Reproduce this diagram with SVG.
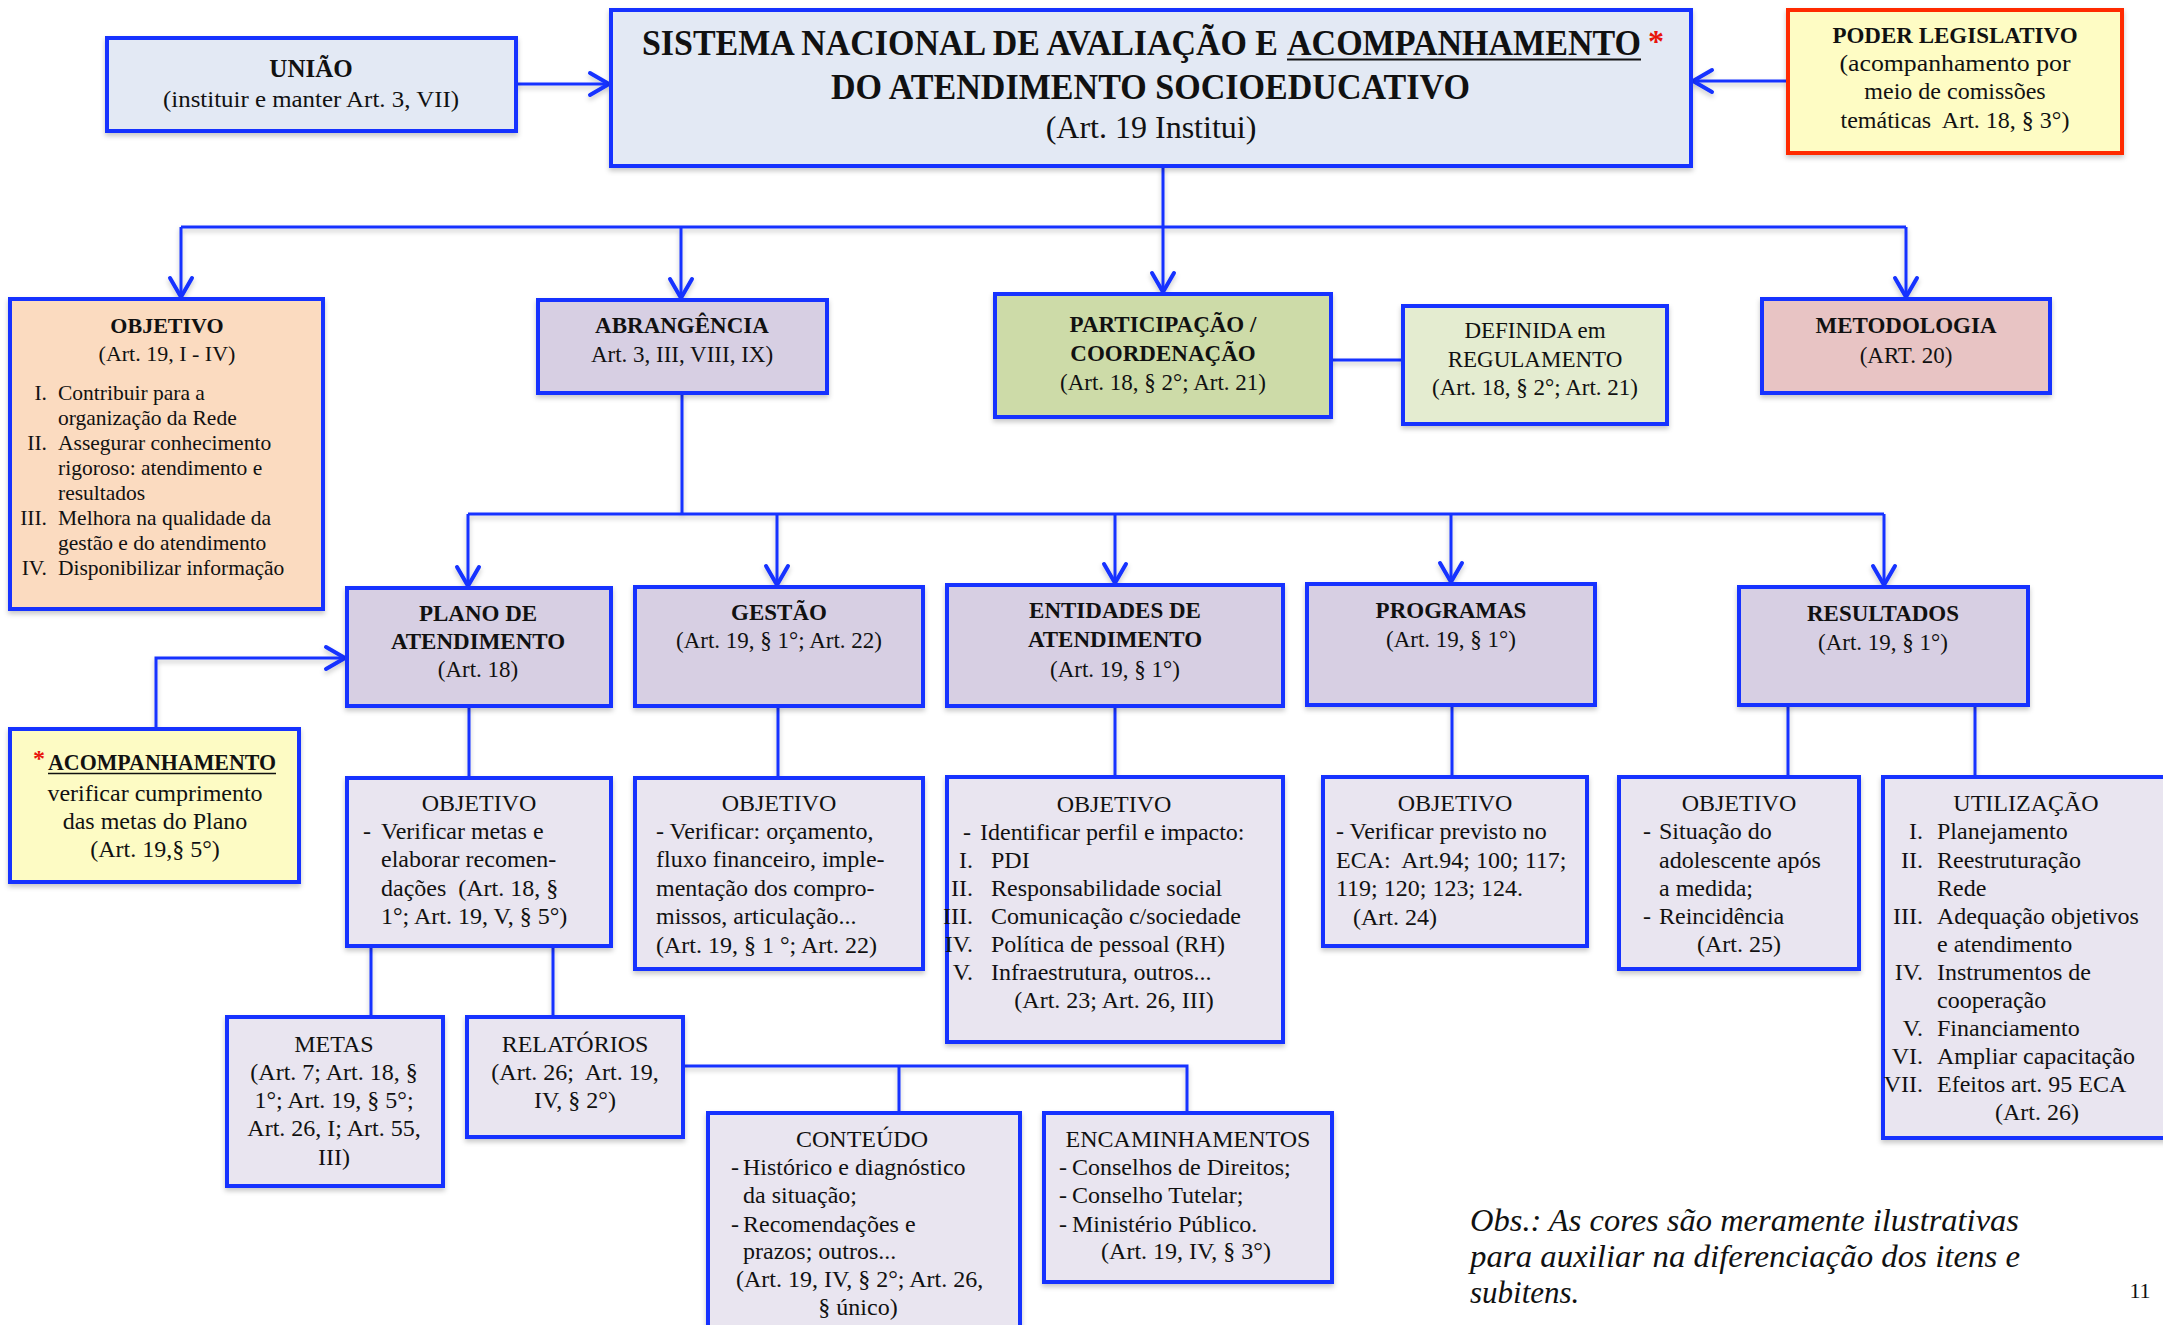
<svg xmlns="http://www.w3.org/2000/svg" width="2163" height="1325" viewBox="0 0 2163 1325">
<style>
.bx{stroke:#1432ff;stroke-width:4}
.lv{fill:#d7cfe3}
.sb{fill:#e9e5f0}
text{font-family:"Liberation Serif","Times New Roman",serif;fill:#111;font-size:24px}
.b{font-weight:bold}
.c{text-anchor:middle}
.e{text-anchor:end}
.h{font-size:23px}
.cn{fill:none;stroke:#1432ff;stroke-width:3}
.ar{marker-end:url(#ar)}
.o{font-size:21.5px}
.t35{font-size:35px}
.t32{font-size:32px}
.t25{font-size:25px}
.t22{font-size:22px}
.it{font-size:31px;font-style:italic}
.red{fill:#e8140c}
</style>
<defs>
<marker id="ar" markerUnits="userSpaceOnUse" markerWidth="30" markerHeight="30" viewBox="0 0 30 30" refX="27" refY="15" orient="auto">
<path d="M8,4 L27,15 L8,26" fill="none" stroke="#1432ff" stroke-width="4" stroke-linecap="round" stroke-linejoin="round"/>
</marker>
<filter id="sh" x="-5%" y="-5%" width="110%" height="120%">
<feDropShadow dx="0" dy="3" stdDeviation="2.5" flood-color="#000" flood-opacity="0.22"/>
</filter>
</defs>
<rect width="2163" height="1325" fill="#fff"/>

<g id="connectors" filter="url(#sh)">
<path class="cn ar" d="M516,84 H609"/>
<path class="cn ar" d="M1787,81 H1693"/>
<path class="cn" d="M181,227 H1906"/>
<path class="cn ar" d="M1163,166 V292"/>
<path class="cn ar" d="M181,227 V297"/>
<path class="cn ar" d="M681,227 V298"/>
<path class="cn ar" d="M1906,227 V297"/>
<path class="cn" d="M1331,360 H1403"/>
<path class="cn" d="M682,393 V514"/>
<path class="cn" d="M468,514 H1884"/>
<path class="cn ar" d="M468,514 V586"/>
<path class="cn ar" d="M777,514 V585"/>
<path class="cn ar" d="M1115,514 V583"/>
<path class="cn ar" d="M1451,514 V582"/>
<path class="cn ar" d="M1884,514 V585"/>
<path class="cn ar" d="M156,730 V658 H345"/>
<path class="cn" d="M469,706 V778"/>
<path class="cn" d="M778,706 V778"/>
<path class="cn" d="M1115,706 V777"/>
<path class="cn" d="M1452,705 V777"/>
<path class="cn" d="M1788,705 V777"/>
<path class="cn" d="M1975,705 V777"/>
<path class="cn" d="M371,946 V1017"/>
<path class="cn" d="M553,946 V1017"/>
<path class="cn" d="M683,1066 H1187 V1113"/>
<path class="cn" d="M899,1066 V1113"/>
</g>

<g id="uniao">
<rect x="107" y="38" width="409" height="93" fill="#e3e9f4" class="bx" filter="url(#sh)"/>
<text x="311" y="77" class="b c t25">UNIÃO</text>
<text x="311" y="107" class="c" textLength="296" lengthAdjust="spacingAndGlyphs">(instituir e manter Art. 3, VII)</text>
</g>

<g id="sistema">
<rect x="611" y="10" width="1080" height="156" fill="#e3e9f4" class="bx" filter="url(#sh)"/>
<text x="642" y="55" class="b t35" textLength="636" lengthAdjust="spacingAndGlyphs">SISTEMA NACIONAL DE AVALIAÇÃO E</text>
<text x="1287" y="55" class="b t35" textLength="354" lengthAdjust="spacingAndGlyphs">ACOMPANHAMENTO</text>
<text x="1648" y="52" class="b t32 red">*</text>
<line x1="1287" y1="59.5" x2="1641" y2="59.5" stroke="#111" stroke-width="1.8"/>
<text x="831" y="99" class="b t35" textLength="639" lengthAdjust="spacingAndGlyphs">DO ATENDIMENTO SOCIOEDUCATIVO</text>
<text x="1151" y="138" class="c t32">(Art. 19 Institui)</text>
</g>

<g id="poder">
<rect x="1788" y="10" width="334" height="143" fill="#fefcc4" stroke="#ff2a00" stroke-width="4" filter="url(#sh)"/>
<text x="1955" y="43" class="b c h">PODER LEGISLATIVO</text>
<text x="1955" y="71" class="c" textLength="231" lengthAdjust="spacingAndGlyphs">(acompanhamento por</text>
<text x="1955" y="99" class="c">meio de comissões</text>
<text x="1955" y="128" class="c" xml:space="preserve">temáticas  Art. 18, § 3°)</text>
</g>

<g id="objetivo">
<rect x="10" y="299" width="313" height="310" fill="#fbdbc0" class="bx" filter="url(#sh)"/>
<text x="167" y="333" class="b c t22">OBJETIVO</text>
<text x="167" y="361" class="c t22">(Art. 19, I - IV)</text>
<text x="47" y="400" class="e o">I.</text><text x="58" y="400" class="o">Contribuir para a</text>
<text x="58" y="425" class="o">organização da Rede</text>
<text x="47" y="450" class="e o">II.</text><text x="58" y="450" class="o">Assegurar conhecimento</text>
<text x="58" y="475" class="o">rigoroso: atendimento e</text>
<text x="58" y="500" class="o">resultados</text>
<text x="47" y="525" class="e o">III.</text><text x="58" y="525" class="o">Melhora na qualidade da</text>
<text x="58" y="550" class="o">gestão e do atendimento</text>
<text x="47" y="575" class="e o">IV.</text><text x="58" y="575" class="o">Disponibilizar informação</text>
</g>

<g id="abrangencia">
<rect x="538" y="300" width="289" height="93" class="bx lv" filter="url(#sh)"/>
<text x="682" y="333" class="b c h">ABRANGÊNCIA</text>
<text x="682" y="362" class="c h">Art. 3, III, VIII, IX)</text>
</g>

<g id="participacao">
<rect x="995" y="294" width="336" height="123" fill="#cddba8" class="bx" filter="url(#sh)"/>
<text x="1163" y="332" class="b c h">PARTICIPAÇÃO /</text>
<text x="1163" y="361" class="b c h">COORDENAÇÃO</text>
<text x="1163" y="390" class="c h">(Art. 18, § 2°; Art. 21)</text>
</g>

<g id="definida">
<rect x="1403" y="306" width="264" height="118" fill="#e4ecd0" class="bx" filter="url(#sh)"/>
<text x="1535" y="338" class="c h">DEFINIDA em</text>
<text x="1535" y="367" class="c h">REGULAMENTO</text>
<text x="1535" y="395" class="c h">(Art. 18, § 2°; Art. 21)</text>
</g>

<g id="metodologia">
<rect x="1762" y="299" width="288" height="94" fill="#e8c4c4" class="bx" filter="url(#sh)"/>
<text x="1906" y="333" class="b c h">METODOLOGIA</text>
<text x="1906" y="363" class="c h">(ART. 20)</text>
</g>

<g id="plano">
<rect x="347" y="588" width="264" height="118" class="bx lv" filter="url(#sh)"/>
<text x="478" y="621" class="b c h">PLANO DE</text>
<text x="478" y="649" class="b c h">ATENDIMENTO</text>
<text x="478" y="677" class="c h">(Art. 18)</text>
</g>

<g id="acompanhamento">
<rect x="10" y="729" width="289" height="153" fill="#fdfbc4" class="bx" filter="url(#sh)"/>
<text x="33" y="766" class="b red">*</text>
<text x="48" y="770" class="b h" textLength="228" lengthAdjust="spacingAndGlyphs">ACOMPANHAMENTO</text>
<line x1="48" y1="773.5" x2="276" y2="773.5" stroke="#111" stroke-width="1.6"/>
<text x="155" y="801" class="c">verificar cumprimento</text>
<text x="155" y="829" class="c">das metas do Plano</text>
<text x="155" y="857" class="c">(Art. 19,§ 5°)</text>
</g>

<g id="gestao">
<rect x="635" y="587" width="288" height="119" class="bx lv" filter="url(#sh)"/>
<text x="779" y="620" class="b c h">GESTÃO</text>
<text x="779" y="648" class="c h">(Art. 19, § 1°; Art. 22)</text>
</g>

<g id="entidades">
<rect x="947" y="585" width="336" height="121" class="bx lv" filter="url(#sh)"/>
<text x="1115" y="618" class="b c h">ENTIDADES DE</text>
<text x="1115" y="647" class="b c h">ATENDIMENTO</text>
<text x="1115" y="677" class="c h">(Art. 19, § 1°)</text>
</g>

<g id="programas">
<rect x="1307" y="584" width="288" height="121" class="bx lv" filter="url(#sh)"/>
<text x="1451" y="618" class="b c h">PROGRAMAS</text>
<text x="1451" y="647" class="c h">(Art. 19, § 1°)</text>
</g>

<g id="resultados">
<rect x="1739" y="587" width="289" height="118" class="bx lv" filter="url(#sh)"/>
<text x="1883" y="621" class="b c h">RESULTADOS</text>
<text x="1883" y="650" class="c h">(Art. 19, § 1°)</text>
</g>

<g id="plano-objetivo">
<rect x="347" y="778" width="264" height="168" class="bx sb" filter="url(#sh)"/>
<text x="479" y="811" class="c">OBJETIVO</text>
<text x="363" y="839">-</text><text x="381" y="839">Verificar metas e</text>
<text x="381" y="867">elaborar recomen-</text>
<text x="381" y="896" xml:space="preserve">dações  (Art. 18, §</text>
<text x="381" y="924">1°; Art. 19, V, § 5°)</text>
</g>

<g id="gestao-objetivo">
<rect x="635" y="778" width="288" height="191" class="bx sb" filter="url(#sh)"/>
<text x="779" y="811" class="c">OBJETIVO</text>
<text x="656" y="839">- Verificar: orçamento,</text>
<text x="656" y="867">fluxo financeiro, imple-</text>
<text x="656" y="896">mentação dos compro-</text>
<text x="656" y="924">missos, articulação...</text>
<text x="656" y="953">(Art. 19, § 1 °; Art. 22)</text>
</g>

<g id="entidades-objetivo">
<rect x="947" y="777" width="336" height="265" class="bx sb" filter="url(#sh)"/>
<text x="1114" y="812" class="c">OBJETIVO</text>
<text x="963" y="840">-</text><text x="980" y="840">Identificar perfil e impacto:</text>
<text x="973" y="868" class="e">I.</text><text x="991" y="868">PDI</text>
<text x="973" y="896" class="e">II.</text><text x="991" y="896">Responsabilidade social</text>
<text x="973" y="924" class="e">III.</text><text x="991" y="924">Comunicação c/sociedade</text>
<text x="973" y="952" class="e">IV.</text><text x="991" y="952">Política de pessoal (RH)</text>
<text x="973" y="980" class="e">V.</text><text x="991" y="980">Infraestrutura, outros...</text>
<text x="1114" y="1008" class="c">(Art. 23; Art. 26, III)</text>
</g>

<g id="programas-objetivo">
<rect x="1323" y="777" width="264" height="169" class="bx sb" filter="url(#sh)"/>
<text x="1455" y="811" class="c">OBJETIVO</text>
<text x="1336" y="839">- Verificar previsto no</text>
<text x="1336" y="868" xml:space="preserve">ECA:  Art.94; 100; 117;</text>
<text x="1336" y="896">119; 120; 123; 124.</text>
<text x="1353" y="925">(Art. 24)</text>
</g>

<g id="resultados-objetivo">
<rect x="1619" y="777" width="240" height="192" class="bx sb" filter="url(#sh)"/>
<text x="1739" y="811" class="c">OBJETIVO</text>
<text x="1643" y="839">-</text><text x="1659" y="839">Situação do</text>
<text x="1659" y="868">adolescente após</text>
<text x="1659" y="896">a medida;</text>
<text x="1643" y="924">-</text><text x="1659" y="924">Reincidência</text>
<text x="1739" y="952" class="c">(Art. 25)</text>
</g>

<g id="utilizacao">
<rect x="1883" y="777" width="300" height="361" class="bx sb" filter="url(#sh)"/>
<text x="2026" y="811" class="c">UTILIZAÇÃO</text>
<text x="1923" y="839" class="e">I.</text><text x="1937" y="839">Planejamento</text>
<text x="1923" y="868" class="e">II.</text><text x="1937" y="868">Reestruturação</text>
<text x="1937" y="896">Rede</text>
<text x="1923" y="924" class="e">III.</text><text x="1937" y="924">Adequação objetivos</text>
<text x="1937" y="952">e atendimento</text>
<text x="1923" y="980" class="e">IV.</text><text x="1937" y="980">Instrumentos de</text>
<text x="1937" y="1008">cooperação</text>
<text x="1923" y="1036" class="e">V.</text><text x="1937" y="1036">Financiamento</text>
<text x="1923" y="1064" class="e">VI.</text><text x="1937" y="1064">Ampliar capacitação</text>
<text x="1923" y="1092" class="e">VII.</text><text x="1937" y="1092">Efeitos art. 95 ECA</text>
<text x="2037" y="1120" class="c">(Art. 26)</text>
</g>

<g id="metas">
<rect x="227" y="1017" width="216" height="169" class="bx sb" filter="url(#sh)"/>
<text x="334" y="1052" class="c">METAS</text>
<text x="334" y="1080" class="c">(Art. 7; Art. 18, §</text>
<text x="334" y="1108" class="c">1°; Art. 19, § 5°;</text>
<text x="334" y="1136" class="c">Art. 26, I; Art. 55,</text>
<text x="334" y="1165" class="c">III)</text>
</g>

<g id="relatorios">
<rect x="467" y="1017" width="216" height="120" class="bx sb" filter="url(#sh)"/>
<text x="575" y="1052" class="c">RELATÓRIOS</text>
<text x="575" y="1080" class="c" xml:space="preserve">(Art. 26;  Art. 19,</text>
<text x="575" y="1108" class="c">IV, § 2°)</text>
</g>

<g id="conteudo">
<rect x="708" y="1113" width="312" height="240" class="bx sb" filter="url(#sh)"/>
<text x="862" y="1147" class="c">CONTEÚDO</text>
<text x="731" y="1175">-</text><text x="743" y="1175">Histórico e diagnóstico</text>
<text x="743" y="1203">da situação;</text>
<text x="731" y="1232">-</text><text x="743" y="1232">Recomendações e</text>
<text x="743" y="1259">prazos; outros...</text>
<text x="736" y="1287">(Art. 19, IV, § 2°; Art. 26,</text>
<text x="858" y="1315" class="c">§ único)</text>
</g>

<g id="encaminhamentos">
<rect x="1044" y="1113" width="288" height="169" class="bx sb" filter="url(#sh)"/>
<text x="1188" y="1147" class="c">ENCAMINHAMENTOS</text>
<text x="1059" y="1175">-</text><text x="1072" y="1175">Conselhos de Direitos;</text>
<text x="1059" y="1203">-</text><text x="1072" y="1203">Conselho Tutelar;</text>
<text x="1059" y="1232">-</text><text x="1072" y="1232">Ministério Público.</text>
<text x="1186" y="1259" class="c">(Art. 19, IV, § 3°)</text>
</g>

<g id="obs">
<text x="1470" y="1231" class="it" textLength="549" lengthAdjust="spacingAndGlyphs">Obs.: As cores são meramente ilustrativas</text>
<text x="1470" y="1267" class="it" textLength="550" lengthAdjust="spacingAndGlyphs">para auxiliar na diferenciação dos itens e</text>
<text x="1470" y="1303" class="it">subitens.</text>
<text x="2140" y="1298" class="c t22">11</text>
</g>
</svg>
